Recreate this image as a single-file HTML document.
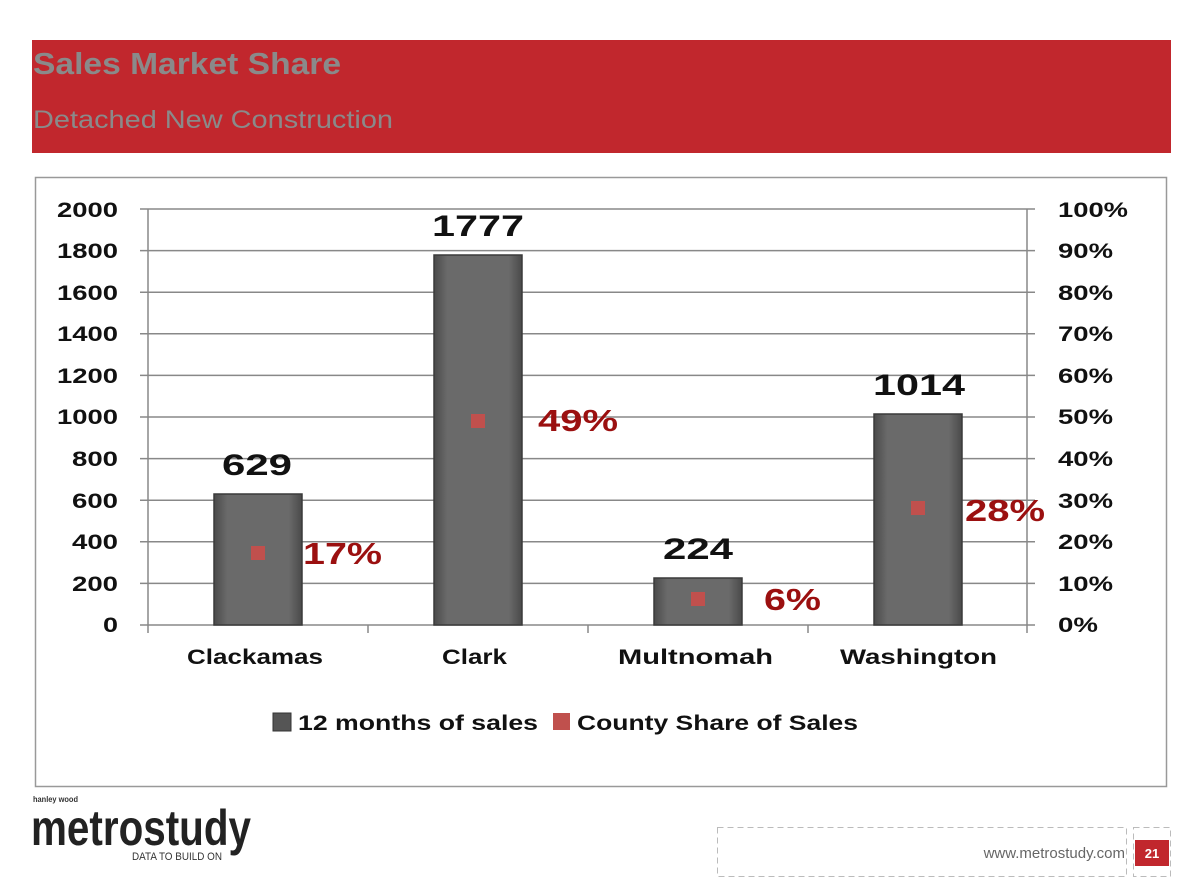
<!DOCTYPE html>
<html><head><meta charset="utf-8"><style>
body{margin:0;background:#fff;width:1200px;height:884px;overflow:hidden;font-family:"Liberation Sans",sans-serif}
</style></head><body>
<svg width="1200" height="884" xmlns="http://www.w3.org/2000/svg" font-family="Liberation Sans, sans-serif">
<defs>
<linearGradient id="bar" x1="0" x2="1"><stop offset="0" stop-color="#4a4a4a"/><stop offset="0.15" stop-color="#6a6a6a"/><stop offset="0.85" stop-color="#6a6a6a"/><stop offset="1" stop-color="#4a4a4a"/></linearGradient>
</defs>
<rect x="32" y="40" width="1139" height="113" fill="#c1272d"/>
<text x="33" y="74" font-size="31" font-weight="bold" fill="#8a8a8a" textLength="308" lengthAdjust="spacingAndGlyphs">Sales Market Share</text>
<text x="33" y="128" font-size="25" fill="#8a8a8a" textLength="360" lengthAdjust="spacingAndGlyphs">Detached New Construction</text>
<rect x="35.5" y="177.5" width="1131" height="609" fill="#fff" stroke="#999" stroke-width="1.5"/>
<g stroke="#888" stroke-width="1.5">
<line x1="140" y1="209" x2="1035" y2="209"/><line x1="140" y1="250.6" x2="1035" y2="250.6"/><line x1="140" y1="292.2" x2="1035" y2="292.2"/><line x1="140" y1="333.8" x2="1035" y2="333.8"/><line x1="140" y1="375.4" x2="1035" y2="375.4"/><line x1="140" y1="417" x2="1035" y2="417"/><line x1="140" y1="458.6" x2="1035" y2="458.6"/><line x1="140" y1="500.2" x2="1035" y2="500.2"/><line x1="140" y1="541.8" x2="1035" y2="541.8"/><line x1="140" y1="583.4" x2="1035" y2="583.4"/><line x1="140" y1="625" x2="1035" y2="625"/>
<line x1="148" y1="209" x2="148" y2="633"/><line x1="1027" y1="209" x2="1027" y2="633"/>
<line x1="368" y1="625" x2="368" y2="633"/><line x1="588" y1="625" x2="588" y2="633"/><line x1="808" y1="625" x2="808" y2="633"/>
</g>
<g font-size="21" font-weight="bold" fill="#111" text-anchor="end" lengthAdjust="spacingAndGlyphs">
<text x="118" y="217" textLength="61" lengthAdjust="spacingAndGlyphs">2000</text><text x="118" y="258" textLength="61" lengthAdjust="spacingAndGlyphs">1800</text><text x="118" y="300" textLength="61" lengthAdjust="spacingAndGlyphs">1600</text><text x="118" y="341" textLength="61" lengthAdjust="spacingAndGlyphs">1400</text><text x="118" y="383" textLength="61" lengthAdjust="spacingAndGlyphs">1200</text><text x="118" y="424" textLength="61" lengthAdjust="spacingAndGlyphs">1000</text><text x="118" y="466" textLength="46" lengthAdjust="spacingAndGlyphs">800</text><text x="118" y="508" textLength="46" lengthAdjust="spacingAndGlyphs">600</text><text x="118" y="549" textLength="46" lengthAdjust="spacingAndGlyphs">400</text><text x="118" y="591" textLength="46" lengthAdjust="spacingAndGlyphs">200</text><text x="118" y="632" textLength="15" lengthAdjust="spacingAndGlyphs">0</text>
</g>
<g font-size="21" font-weight="bold" fill="#111">
<text x="1058" y="217" textLength="70" lengthAdjust="spacingAndGlyphs">100%</text><text x="1058" y="258" textLength="55" lengthAdjust="spacingAndGlyphs">90%</text><text x="1058" y="300" textLength="55" lengthAdjust="spacingAndGlyphs">80%</text><text x="1058" y="341" textLength="55" lengthAdjust="spacingAndGlyphs">70%</text><text x="1058" y="383" textLength="55" lengthAdjust="spacingAndGlyphs">60%</text><text x="1058" y="424" textLength="55" lengthAdjust="spacingAndGlyphs">50%</text><text x="1058" y="466" textLength="55" lengthAdjust="spacingAndGlyphs">40%</text><text x="1058" y="508" textLength="55" lengthAdjust="spacingAndGlyphs">30%</text><text x="1058" y="549" textLength="55" lengthAdjust="spacingAndGlyphs">20%</text><text x="1058" y="591" textLength="55" lengthAdjust="spacingAndGlyphs">10%</text><text x="1058" y="632" textLength="40" lengthAdjust="spacingAndGlyphs">0%</text>
</g>
<g stroke="#3a3a3a" stroke-width="1.5" fill="url(#bar)">
<rect x="214" y="494" width="88" height="131"/>
<rect x="434" y="255" width="88" height="370"/>
<rect x="654" y="578" width="88" height="47"/>
<rect x="874" y="414" width="88" height="211"/>
</g>
<g fill="#c0504d">
<rect x="251" y="546" width="14" height="14"/>
<rect x="471" y="414" width="14" height="14"/>
<rect x="691" y="592" width="14" height="14"/>
<rect x="911" y="501" width="14" height="14"/>
</g>
<g font-size="30" font-weight="bold" fill="#111">
<text x="222" y="475" textLength="70" lengthAdjust="spacingAndGlyphs">629</text><text x="432" y="236" textLength="92" lengthAdjust="spacingAndGlyphs">1777</text><text x="663" y="559" textLength="70" lengthAdjust="spacingAndGlyphs">224</text><text x="873" y="395" textLength="92" lengthAdjust="spacingAndGlyphs">1014</text>
</g>
<g font-size="31" font-weight="bold" fill="#9b1010">
<text x="303" y="564" textLength="79" lengthAdjust="spacingAndGlyphs">17%</text><text x="538" y="431" textLength="80" lengthAdjust="spacingAndGlyphs">49%</text><text x="764" y="610" textLength="57" lengthAdjust="spacingAndGlyphs">6%</text><text x="965" y="521" textLength="80" lengthAdjust="spacingAndGlyphs">28%</text>
</g>
<g font-size="21" font-weight="bold" fill="#111">
<text x="187" y="664" textLength="136" lengthAdjust="spacingAndGlyphs">Clackamas</text><text x="442" y="664" textLength="65" lengthAdjust="spacingAndGlyphs">Clark</text><text x="618" y="664" textLength="155" lengthAdjust="spacingAndGlyphs">Multnomah</text><text x="840" y="664" textLength="157" lengthAdjust="spacingAndGlyphs">Washington</text>
</g>
<rect x="273" y="713" width="18" height="18" fill="#555" stroke="#333"/>
<text x="298" y="730" font-size="21" font-weight="bold" fill="#111" textLength="240" lengthAdjust="spacingAndGlyphs">12 months of sales</text>
<rect x="553" y="713" width="17" height="17" fill="#c0504d"/>
<text x="577" y="730" font-size="21" font-weight="bold" fill="#111" textLength="281" lengthAdjust="spacingAndGlyphs">County Share of Sales</text>
<text x="33" y="802" font-size="8" font-weight="bold" fill="#333" textLength="45" lengthAdjust="spacingAndGlyphs">hanley wood</text>
<text x="31" y="845" font-size="50" font-weight="bold" fill="#222" textLength="220" lengthAdjust="spacingAndGlyphs">metrostudy</text>
<text x="132" y="860" font-size="11" fill="#333" textLength="90" lengthAdjust="spacingAndGlyphs">DATA TO BUILD ON</text>
<rect x="717.5" y="827.5" width="409" height="49" fill="none" stroke="#bbb" stroke-dasharray="6,4"/>
<rect x="1133.5" y="827.5" width="37" height="49" fill="none" stroke="#bbb" stroke-dasharray="6,4"/>
<text x="1125" y="858" font-size="15" fill="#666" text-anchor="end">www.metrostudy.com</text>
<rect x="1135" y="840" width="34" height="26" fill="#c1272d"/>
<text x="1152" y="858" font-size="13" font-weight="bold" fill="#fff" text-anchor="middle">21</text>
</svg>
</body></html>
